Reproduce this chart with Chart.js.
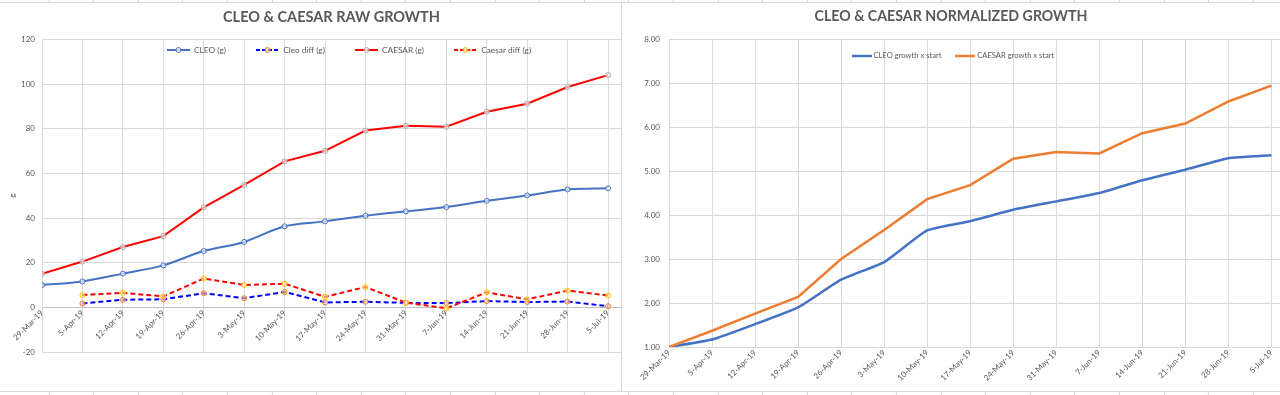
<!DOCTYPE html>
<html><head><meta charset="utf-8">
<script src="https://cdn.jsdelivr.net/npm/chart.js@4.4.1/dist/chart.umd.min.js"></script>
<style>
html,body{margin:0;padding:0;background:#fff;width:1280px;height:395px;overflow:hidden;position:relative;}
#cl{position:absolute;left:0;top:0;}
#cr{position:absolute;left:622px;top:0;}
.hl{position:absolute;left:0;width:1280px;height:1px;background:#d9d9d9;}
.vl{position:absolute;top:2px;height:390px;width:1px;background:#d9d9d9;}
.strip{position:absolute;left:0;width:1280px;background-image:repeating-linear-gradient(to right,transparent 0,transparent 43.6px,#d4d4d4 43.6px,#d4d4d4 44.6px);background-position:4.9px 0;}
</style></head>
<body>
<canvas id="cl" width="621" height="395"></canvas>
<canvas id="cr" width="658" height="395"></canvas>
<div class="strip" style="top:0;height:2px"></div>
<div class="hl" style="top:2px"></div>
<div class="hl" style="top:391px"></div>
<div class="strip" style="top:392px;height:3px"></div>
<div class="vl" style="left:621px"></div>
<script>
// ---- data ----
const dates = ['29-Mar-19','5-Apr-19','12-Apr-19','19-Apr-19','26-Apr-19','3-May-19','10-May-19','17-May-19','24-May-19','31-May-19','7-Jun-19','14-Jun-19','21-Jun-19','28-Jun-19','5-Jul-19'];
const cleoG      = [9.95, 11.6, 15.1, 18.8, 25.2, 29.3, 36.3, 38.5, 41.0, 43.0, 44.9, 47.7, 50.1, 52.8, 53.3];
const cleoDiff   = [null, 1.7, 3.4, 3.6, 6.3, 4.1, 6.9, 2.2, 2.5, 2.0, 1.9, 2.8, 2.4, 2.6, 0.5];
const caesarG    = [15.0, 20.5, 27.0, 31.9, 44.8, 54.8, 65.4, 70.1, 79.2, 81.3, 80.9, 87.6, 91.2, 98.7, 104.0];
const caesarDiff = [null, 5.5, 6.5, 4.9, 12.9, 10.0, 10.6, 4.7, 9.1, 2.1, -0.4, 6.7, 3.6, 7.5, 5.3];
const cleoNorm   = [1.00, 1.17, 1.52, 1.90, 2.53, 2.93, 3.65, 3.86, 4.12, 4.31, 4.50, 4.79, 5.03, 5.29, 5.36];
const caesarNorm = [1.00, 1.37, 1.76, 2.14, 3.00, 3.66, 4.36, 4.68, 5.28, 5.43, 5.40, 5.86, 6.08, 6.58, 6.94];
const rawTicks  = [-20, 0, 20, 40, 60, 80, 100, 120];
const normTicks = [1, 2, 3, 4, 5, 6, 7, 8];
const rawLabels  = ['CLEO (g)', 'Cleo diff (g)', 'CAESAR (g)', 'Caesar diff (g)'];
const normLabels = ['CLEO growth x start', 'CAESAR growth x start'];

// ---- helpers ----
const FONT = 'Lato, "Open Sans", sans-serif';
const GRAY = '#595959';
const GRID = '#D9D9D9';
const pts = arr => arr.map((v, i) => ({x: i, y: v}));

function icon(w, color, dash, lw, marker) {
  const c = document.createElement('canvas');
  c.width = w; c.height = 8;
  const g = c.getContext('2d');
  g.strokeStyle = color; g.lineWidth = lw; g.setLineDash(dash || []);
  g.beginPath(); g.moveTo(0, 4); g.lineTo(w, 4); g.stroke();
  if (marker) {
    g.setLineDash([]); g.lineWidth = 1;
    g.strokeStyle = marker[0]; g.fillStyle = marker[1];
    g.beginPath(); g.arc(w / 2, 4, 2.5, 0, Math.PI * 2); g.fill(); g.stroke();
  }
  return c;
}

function legendShift(cx, cy) {
  return {
    id: 'legendShift',
    afterLayout(chart) {
      const L = chart.legend; if (!L) return;
      const dx = cx - (L.left + L.right) / 2;
      L.left += dx; L.right += dx;
      const pad = L.options.labels.padding;
      const fs = L.options.labels.font.size;
      const top = cy - pad - fs / 2;
      L.top = top; L.height = pad + 20; L.bottom = top + L.height;
    }
  };
}

function xScale(max, height, noPad) {
  return {
    type: 'linear', min: 0, max: max,
    afterBuildTicks: s => { s.ticks = dates.map((d, i) => ({value: i})); },
    afterFit: s => { s.height = height; if (noPad) { s.paddingRight = 0; s.paddingLeft = 0; } },
    ticks: {autoSkip: false, minRotation: 45, maxRotation: 45, padding: 1, color: GRAY,
            font: {family: FONT, size: 8}, callback: v => dates[v]},
    grid: {color: GRID, drawTicks: false},
  };
}

// ---- left chart ----
const iconsL = [
  icon(23, '#4472C4', null, 2, ['#4472C4', 'rgba(255,255,255,0.7)']),
  icon(23, '#0000FF', [4, 2], 2, ['#ED7D31', 'rgba(248,203,173,0.7)']),
  icon(23, '#FF0000', null, 2, ['#A5A5A5', 'rgba(255,255,255,0.7)']),
  icon(23, '#FF0000', [4, 2], 2, ['#FFC000', 'rgba(255,230,153,0.7)'])
];
const xL = xScale(14.32, 0, true);
xL.position = {y: 0};
xL.border = {color: '#BFBFBF'};

new Chart(document.getElementById('cl'), {
  type: 'line',
  data: {
    datasets: [
      {label: rawLabels[0], data: pts(cleoG), borderColor: '#4472C4', borderWidth: 2, tension: 0.3,
       pointRadius: 2.5, pointBorderWidth: 1, pointBorderColor: '#4472C4', pointBackgroundColor: 'rgba(255,255,255,0.6)', order: 4},
      {label: rawLabels[1], data: pts(cleoDiff), borderColor: '#0000FF', borderWidth: 2, borderDash: [5, 3], tension: 0,
       pointRadius: 2.5, pointBorderWidth: 1, pointBorderColor: '#ED7D31', pointBackgroundColor: 'rgba(248,203,173,0.6)', order: 3},
      {label: rawLabels[2], data: pts(caesarG), borderColor: '#FF0000', borderWidth: 2, tension: 0,
       pointRadius: 2.5, pointBorderWidth: 1, pointBorderColor: '#A5A5A5', pointBackgroundColor: 'rgba(255,255,255,0.6)', order: 2},
      {label: rawLabels[3], data: pts(caesarDiff), borderColor: '#FF0000', borderWidth: 2, borderDash: [5, 3], tension: 0,
       pointRadius: 2.5, pointBorderWidth: 1, pointBorderColor: '#FFC000', pointBackgroundColor: 'rgba(255,230,153,0.6)', order: 1}
    ]
  },
  options: {
    responsive: false, animation: false, devicePixelRatio: 1,
    layout: {padding: {bottom: 43}, autoPadding: false},
    plugins: {
      tooltip: {enabled: false},
      title: {display: true, text: 'CLEO & CAESAR RAW GROWTH', color: GRAY, fullSize: false,
              font: {family: FONT, size: 14.5, weight: 'bold'}, padding: {top: 9, bottom: 12}},
      legend: {display: true, position: 'top', maxHeight: 1,
        labels: {usePointStyle: true, pointStyleWidth: 23, boxHeight: 8, padding: 30, color: GRAY,
          font: {family: FONT, size: 8.3},
          generateLabels: chart => chart.data.datasets.map((ds, i) => ({
            text: ds.label, pointStyle: iconsL[i], datasetIndex: i, fontColor: GRAY,
            lineWidth: 0, strokeStyle: 'transparent', fillStyle: 'transparent', hidden: false}))}}
    },
    scales: {
      x: xL,
      y: {min: -20, max: 120,
          afterBuildTicks: s => { s.ticks = rawTicks.map(v => ({value: v})); },
          afterFit: s => { s.width = 42; },
          ticks: {padding: 7, color: GRAY, font: {family: FONT, size: 8}},
          grid: {color: GRID, drawTicks: false},
          border: {color: GRID},
          title: {display: true, text: 'g', color: GRAY, font: {family: FONT, size: 8}, padding: {top: 8, bottom: 0}}}
    }
  },
  plugins: [legendShift(349, 50)]
});

// ---- right chart ----
const iconsR = [icon(20, '#4472C4', null, 2.5, null), icon(20, '#ED7D31', null, 2.5, null)];
const xR = xScale(14.2, 48, false);
xR.position = 'bottom';
xR.border = {color: GRID};

new Chart(document.getElementById('cr'), {
  type: 'line',
  data: {
    datasets: [
      {label: normLabels[0], data: pts(cleoNorm), borderColor: '#4472C4', borderWidth: 2.5, tension: 0.15, pointRadius: 0, order: 2},
      {label: normLabels[1], data: pts(caesarNorm), borderColor: '#ED7D31', borderWidth: 2.5, tension: 0, pointRadius: 0, order: 1}
    ]
  },
  options: {
    responsive: false, animation: false, devicePixelRatio: 1,
    layout: {padding: 0, autoPadding: false},
    plugins: {
      tooltip: {enabled: false},
      title: {display: true, text: 'CLEO & CAESAR NORMALIZED GROWTH', color: GRAY,
              font: {family: FONT, size: 14.2, weight: 'bold'}, padding: {top: 8, bottom: 13}},
      legend: {display: true, position: 'top', maxHeight: 1,
        labels: {usePointStyle: true, pointStyleWidth: 16, boxHeight: 8, padding: 16, color: GRAY,
          font: {family: FONT, size: 7.6},
          generateLabels: chart => chart.data.datasets.map((ds, i) => ({
            text: ds.label, pointStyle: iconsR[i], datasetIndex: i, fontColor: GRAY,
            lineWidth: 0, strokeStyle: 'transparent', fillStyle: 'transparent', hidden: false}))}}
    },
    scales: {
      x: xR,
      y: {min: 1, max: 8,
          afterBuildTicks: s => { s.ticks = normTicks.map(v => ({value: v})); },
          afterFit: s => { s.width = 47; },
          ticks: {padding: 9, color: GRAY, font: {family: FONT, size: 8}, callback: v => Number(v).toFixed(2)},
          grid: {color: GRID, drawTicks: false},
          border: {color: GRID}}
    }
  },
  plugins: [legendShift(332, 56)]
});
</script>
</body></html>
